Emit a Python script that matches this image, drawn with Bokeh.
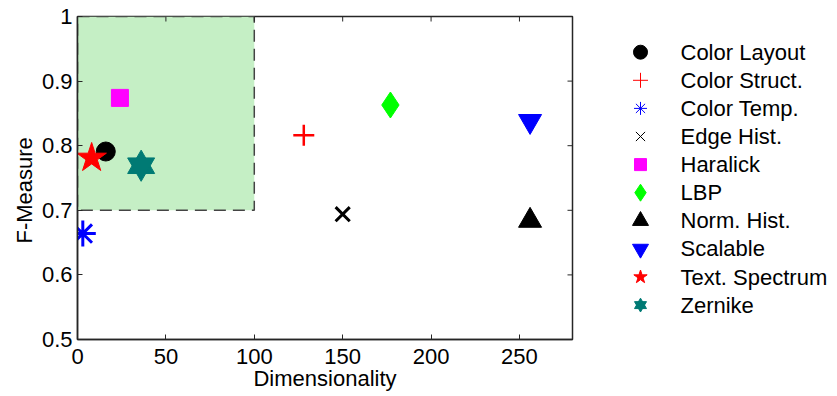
import math
from bokeh.plotting import figure
from bokeh.models import Range1d, FixedTicker, Title
from bokeh.layouts import row
from bokeh.embed import file_html
from bokeh.resources import INLINE
from bokeh.core.properties import value

# ---------------- data ----------------
names = ["Color Layout", "Color Struct.", "Color Temp.", "Edge Hist.", "Haralick",
         "LBP", "Norm. Hist.", "Scalable", "Text. Spectrum", "Zernike"]
dimensionality = [16, 128, 3, 150, 24, 177, 256, 256, 8, 36]
f_measure = [0.791, 0.816, 0.664, 0.694, 0.874, 0.863, 0.684, 0.838, 0.781, 0.769]
x_ticks = [0, 50, 100, 150, 200, 250]
y_ticks = [0.5, 0.6, 0.7, 0.8, 0.9, 1.0]
y_tick_labels = ["0.5", "0.6", "0.7", "0.8", "0.9", "1"]
region_x = [0, 100]
region_y = [0.7, 1.0]
x_limits = [0, 280]
y_limits = [0.5, 1.0]
x_label = "Dimensionality"
y_label = "F-Measure"

# ---------------- styles ----------------
FONT = "Liberation Sans"
AX = "#262626"
styles = [
    dict(markers=["circle"], color="black", size=19, lw=1, lsize=14, llw=1),
    dict(markers=["cross"], color="red", size=21, lw=2.5, lsize=15, llw=1),
    dict(markers=["asterisk"], color="blue", size=26, lw=3, lsize=13, llw=1),
    dict(markers=["x"], color="black", size=20, lw=3, lsize=13, llw=1),
    dict(markers=["square"], color="#ff00ff", size=17, lw=1, lsize=12, llw=1),
    dict(markers=["diamond"], color="#00ff00", size=26, lw=1, lsize=17, llw=1),
    dict(markers=["triangle"], color="black", size=23, lw=1, lsize=16, llw=1),
    dict(markers=["inverted_triangle"], color="blue", size=23, lw=1, lsize=16, llw=1),
    dict(markers=["star"], color="red", size=31, lw=1, lsize=14, llw=1),
    dict(markers=["triangle", "inverted_triangle"], color="#007a74", size=27, lw=1, lsize=12, llw=1),
]
line_only = {"cross", "asterisk", "x"}

# ---------------- layout numbers (page pixels) ----------------
H = 396
FRAME_TOP, FRAME_BOTTOM = 16, 339
MAIN_W = 608

# ---------------- main plot ----------------
p = figure(width=MAIN_W, height=H, x_range=Range1d(*x_limits), y_range=Range1d(*y_limits),
           toolbar_location=None, output_backend="svg",
           min_border_left=77, min_border_right=36, min_border_top=FRAME_TOP,
           min_border_bottom=H - FRAME_BOTTOM)
p.grid.visible = False
p.outline_line_color = AX
p.outline_line_width = 1.5
p.background_fill_color = "white"

p.quad(left=[region_x[0]], right=[region_x[1]], bottom=[region_y[0]], top=[region_y[1]],
       fill_color="#c5efc5", line_color="#444444", line_width=1.5, line_dash="12 7")

for xi, yi, st in zip(dimensionality, f_measure, styles):
    for m in st["markers"]:
        if m in line_only:
            p.scatter(x=[xi], y=[yi], marker=m, size=st["size"], line_color=st["color"],
                      line_width=st["lw"])
        else:
            p.scatter(x=[xi], y=[yi], marker=m, size=st["size"], fill_color=st["color"],
                      line_color=st["color"], line_width=st["lw"])

# ticks on the top and right edges (box style)
p.ray(x=x_ticks, y=[y_limits[1]] * len(x_ticks), angle=-math.pi / 2, length=5,
      length_units="screen", line_color=AX, line_width=1)
p.ray(x=[x_limits[1]] * len(y_ticks), y=y_ticks, angle=math.pi, length=5,
      length_units="screen", line_color=AX, line_width=1)

xa = p.xaxis[0]
ya = p.yaxis[0]
xa.ticker = FixedTicker(ticks=x_ticks)
ya.ticker = FixedTicker(ticks=y_ticks)
ya.major_label_overrides = {t: l for t, l in zip(y_ticks, y_tick_labels)}

for ax in (xa, ya):
    ax.axis_line_color = AX
    ax.axis_line_width = 1.5
    ax.major_tick_line_color = AX
    ax.major_tick_line_width = 1
    ax.major_tick_in = 5
    ax.major_tick_out = 0
    ax.minor_tick_in = 0
    ax.minor_tick_out = 0
    ax.major_label_text_font = FONT
    ax.major_label_text_font_size = "22px"
    ax.major_label_text_color = "black"
    ax.axis_label_text_font = FONT
    ax.axis_label_text_font_size = "22px"
    ax.axis_label_text_font_style = "normal"
    ax.axis_label_text_color = "black"

xa.axis_label = x_label
xa.major_label_standoff = 9
xa.axis_label_standoff = -1
ya.major_label_standoff = 5

# y label as a left title so it can sit slightly below the frame centre
p.add_layout(Title(text=y_label, align="left", offset=96, standoff=4,
                   text_font=FONT, text_font_size="22px", text_font_style="normal",
                   text_color="black"), "left")

# ---------------- legend (separate figure, frame aligned with main frame) ----------------
row_gap = 28.1
first_row_y = 51.7   # page y of first legend row
r_top = (FRAME_TOP - first_row_y) / row_gap
r_bottom = (FRAME_BOTTOM - first_row_y) / row_gap
LEG_W = 225
leg = figure(width=LEG_W, height=H, x_range=Range1d(0, LEG_W),
             y_range=Range1d(r_bottom, r_top),
             toolbar_location=None, output_backend="svg",
             min_border_left=0, min_border_right=0, min_border_top=FRAME_TOP,
             min_border_bottom=H - FRAME_BOTTOM)
leg.xaxis.visible = False
leg.yaxis.visible = False
leg.grid.visible = False
leg.outline_line_color = None

for i, st in enumerate(styles):
    for m in st["markers"]:
        if m in line_only:
            leg.scatter(x=[32], y=[i], marker=m, size=st["lsize"], line_color=st["color"],
                        line_width=st["llw"])
        else:
            leg.scatter(x=[32], y=[i], marker=m, size=st["lsize"], fill_color=st["color"],
                        line_color=st["color"], line_width=st["llw"])

leg.text(x=[72] * len(names), y=list(range(len(names))), text=names,
         text_baseline="middle", text_align="left", text_font=value(FONT),
         text_font_size="22px", text_color="black")

layout = row(p, leg)
open("out.html", "w").write(file_html(layout, INLINE))
